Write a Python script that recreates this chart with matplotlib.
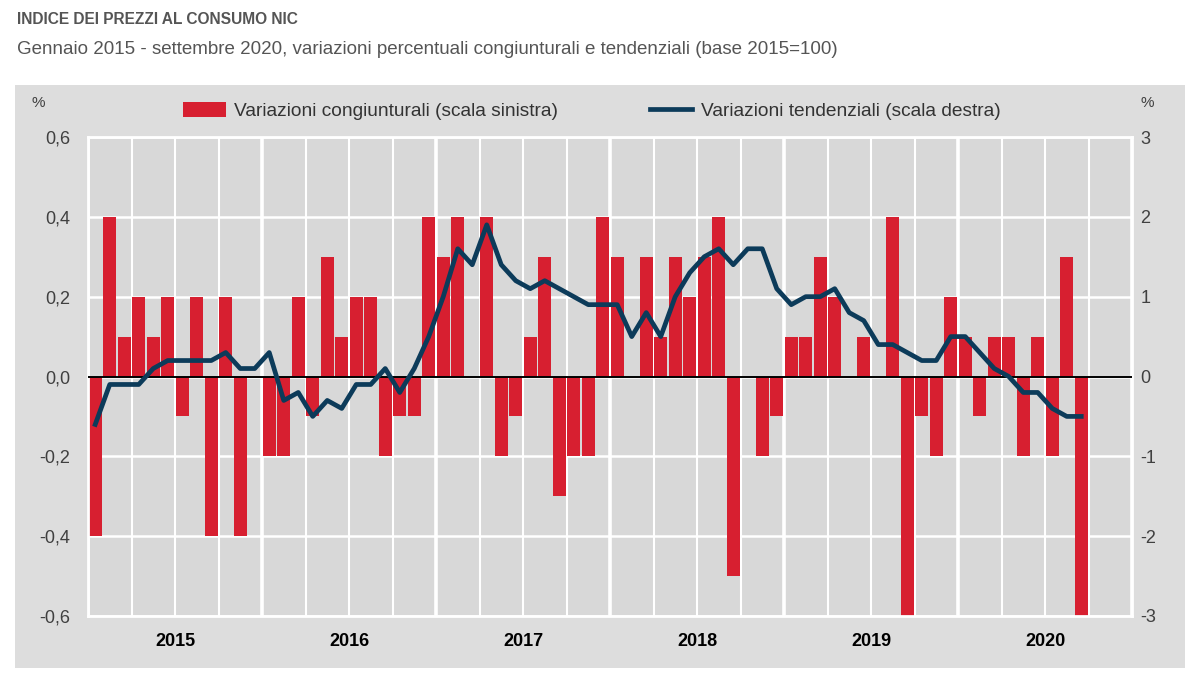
import matplotlib.pyplot as plt
from matplotlib.patches import Rectangle, Patch
from matplotlib.lines import Line2D

# data: gennaio 2015 - settembre 2020
anni = ['2015', '2016', '2017', '2018', '2019', '2020']
congiunturali = [
    -0.4, 0.4, 0.1, 0.2, 0.1, 0.2, -0.1, 0.2, -0.4, 0.2, -0.4, 0.0,
    -0.2, -0.2, 0.2, -0.1, 0.3, 0.1, 0.2, 0.2, -0.2, -0.1, -0.1, 0.4,
    0.3, 0.4, 0.0, 0.4, -0.2, -0.1, 0.1, 0.3, -0.3, -0.2, -0.2, 0.4,
    0.3, 0.0, 0.3, 0.1, 0.3, 0.2, 0.3, 0.4, -0.5, 0.0, -0.2, -0.1,
    0.1, 0.1, 0.3, 0.2, 0.0, 0.1, 0.0, 0.4, -0.6, -0.1, -0.2, 0.2,
    0.1, -0.1, 0.1, 0.1, -0.2, 0.1, -0.2, 0.3, -0.6,
]
tendenziali = [
    -0.6, -0.1, -0.1, -0.1, 0.1, 0.2, 0.2, 0.2, 0.2, 0.3, 0.1, 0.1,
    0.3, -0.3, -0.2, -0.5, -0.3, -0.4, -0.1, -0.1, 0.1, -0.2, 0.1, 0.5,
    1.0, 1.6, 1.4, 1.9, 1.4, 1.2, 1.1, 1.2, 1.1, 1.0, 0.9, 0.9,
    0.9, 0.5, 0.8, 0.5, 1.0, 1.3, 1.5, 1.6, 1.4, 1.6, 1.6, 1.1,
    0.9, 1.0, 1.0, 1.1, 0.8, 0.7, 0.4, 0.4, 0.3, 0.2, 0.2, 0.5,
    0.5, 0.3, 0.1, 0.0, -0.2, -0.2, -0.4, -0.5, -0.5,
]
left_ticks = [-0.6, -0.4, -0.2, 0.0, 0.2, 0.4, 0.6]
left_labels = ['-0,6', '-0,4', '-0,2', '0,0', '0,2', '0,4', '0,6']
right_ticks = [-3, -2, -1, 0, 1, 2, 3]
right_labels = ['-3', '-2', '-1', '0', '1', '2', '3']

bar_col = '#d71f30'
line_col = '#0c3b5a'
txt_col = '#404040'
panel_col = '#dddddd'

plt.rcParams['font.family'] = 'Liberation Sans'
fig = plt.figure(figsize=(12, 6.9), dpi=100)

# grey panel behind chart
fig.patches.append(Rectangle((15 / 1200, 1 - 668 / 690), 1170 / 1200, 583 / 690,
                             transform=fig.transFigure, facecolor=panel_col,
                             edgecolor='none', zorder=0))

fig.text(17 / 1200, 1 - 20 / 690, 'INDICE DEI PREZZI AL CONSUMO NIC',
         fontsize=11.2, fontweight='bold', color='#555555', va='center', ha='left')
fig.text(17 / 1200, 1 - 50 / 690,
         'Gennaio 2015 - settembre 2020, variazioni percentuali congiunturali e tendenziali (base 2015=100)',
         fontsize=13.5, color='#555555', va='center', ha='left')

ax = fig.add_axes([88 / 1200, 1 - 616 / 690, 1044 / 1200, 479 / 690])
ax.set_facecolor('#d8d8d8')
ax.set_zorder(1)

n_months = len(anni) * 12
x = list(range(len(congiunturali)))

# gridlines: quarters, thicker at year boundaries
for k in range(0, n_months + 1, 3):
    ax.axvline(k - 0.5, color='white', lw=2.6 if k % 12 == 0 else 1.5, zorder=0)
for t in left_ticks:
    ax.axhline(t, color='white', lw=1.8, zorder=0)

ax.bar(x, congiunturali, width=0.88, color=bar_col, zorder=2)
ax.axhline(0, color='black', lw=1.4, zorder=3)

ax.set_xlim(-0.5, n_months - 0.5)
ax.set_ylim(-0.6, 0.6)
ax.set_yticks(left_ticks)
ax.set_yticklabels(left_labels)
ax.set_xticks([12 * i + 5.5 for i in range(len(anni))])
ax.set_xticklabels(anni, fontweight='bold', color='black')
ax.tick_params(axis='x', length=0, pad=12, labelsize=13)
ax.tick_params(axis='y', length=0, pad=13, labelsize=13, labelcolor=txt_col)
for s in ax.spines.values():
    s.set_color('white')
    s.set_linewidth(2)

ax2 = ax.twinx()
ax2.plot(x, tendenziali, color=line_col, lw=3.4, solid_joinstyle='round', zorder=4)
ax2.set_ylim(-3, 3)
ax2.set_yticks(right_ticks)
ax2.set_yticklabels(right_labels)
ax2.tick_params(axis='y', length=0, pad=6, labelsize=13, labelcolor=txt_col)
for s in ax2.spines.values():
    s.set_visible(False)

fig.text(38 / 1200, 1 - 103 / 690, '%', fontsize=11, color=txt_col, ha='center', va='center')
fig.text(1147 / 1200, 1 - 103 / 690, '%', fontsize=11, color=txt_col, ha='center', va='center')

handles = [Patch(facecolor=bar_col, edgecolor='none'),
           Line2D([], [], color=line_col, lw=3.4)]
labels = ['Variazioni congiunturali (scala sinistra)', 'Variazioni tendenziali (scala destra)']
leg = fig.legend(handles, labels, loc='center', bbox_to_anchor=(592 / 1200, 1 - 111 / 690),
                 ncol=2, frameon=False, handlelength=2.2, handleheight=0.8,
                 columnspacing=4.8, handletextpad=0.45, prop={'size': 13.8})
for t in leg.get_texts():
    t.set_color('#333333')

fig.savefig('out.png', dpi=100)
